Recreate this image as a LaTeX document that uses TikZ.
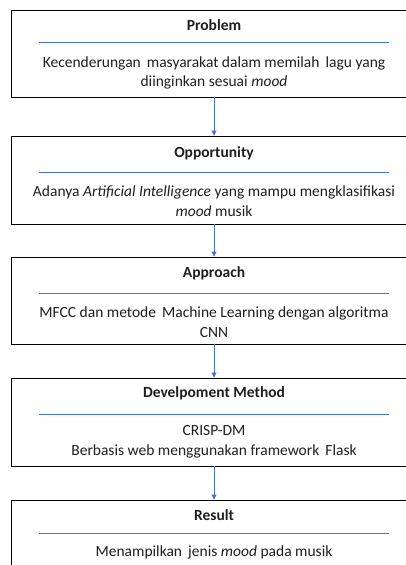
\documentclass[tikz,border=0pt]{standalone}
\usepackage{fontspec}
\setmainfont{Carlito}
\usetikzlibrary{arrows.meta}
\definecolor{obl}{HTML}{4472C4}
\definecolor{ink}{HTML}{1F1F1F}
\tikzset{
  box/.style={draw=black, line width=0.9pt, minimum width=406pt, inner sep=0pt},
  sep/.style={draw=obl, line width=0.8pt},
  ttl/.style={font=\fontsize{15.5}{18}\selectfont\bfseries, text=ink, inner sep=0pt},
  txt/.style={font=\fontsize{15.5}{19.5}\selectfont, text=ink, inner sep=0pt, align=center},
  arr/.style={draw=obl, line width=0.9pt, -{Triangle[length=5pt,width=5pt]}}
}
\begin{document}
\begin{tikzpicture}[x=1pt,y=-1pt]
\useasboundingbox (0,0) rectangle (406,565);
\fill[white] (0,0) rectangle (406,565);
% boxes
\node[box, minimum height=87pt] (b1) at (214,53.5) {};
\node[box, minimum height=88pt] (b2) at (214,180) {};
\node[box, minimum height=87pt] (b3) at (214,300.5) {};
\node[box, minimum height=88pt] (b4) at (214,422) {};
\node[box, minimum height=88pt] (b5) at (214,544) {};
% titles
\node[ttl] (t1) at (214,25) {Problem};
\node[ttl] (t2) at (214,153) {Opportunity};
\node[ttl] (t3) at (214,273) {Approach};
\node[ttl] (t4) at (214,393) {Develpoment Method};
\node[ttl] (t5) at (214,515) {Result};
% separators
\draw[sep] (39,42) -- (389,42);
\draw[sep] (39,172) -- (389,172);
\draw[sep] (39,293) -- (389,293);
\draw[sep] (39,414) -- (389,414);
\draw[sep] (39,533) -- (389,533);
% texts
\node[txt] (x1) at (214,73) {Kecenderungan\, masyarakat dalam memilah\, lagu yang\\diinginkan sesuai \textit{mood}};
\node[txt] (x2) at (214,201) {Adanya \textit{Artificial Intelligence} yang mampu mengklasifikasi\\\textit{mood} musik};
\node[txt] (x3) at (214,322) {MFCC dan metode\, Machine Learning dengan algoritma\\CNN};
\node[txt] (x4) at (214,442) {CRISP-DM\\Berbasis web menggunakan framework\, Flask};
\node[txt] (x5) at (214,552) {Menampilkan\, jenis \textit{mood} pada musik};
% arrows
\draw[arr] (b1.south) -- (b2.north);
\draw[arr] (b2.south) -- (b3.north);
\draw[arr] (b3.south) -- (b4.north);
\draw[arr] (b4.south) -- (b5.north);
\end{tikzpicture}
\end{document}
